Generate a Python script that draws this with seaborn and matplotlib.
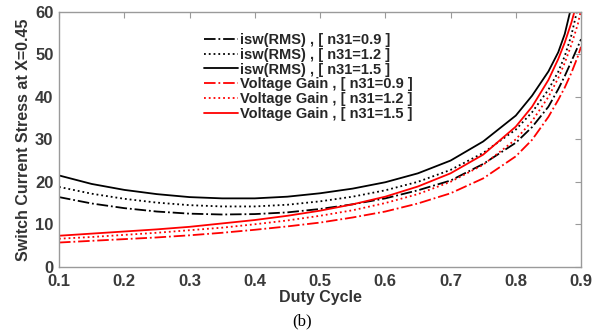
import matplotlib
matplotlib.use("Agg")
import matplotlib.pyplot as plt
import seaborn as sns
import pandas as pd

duty = [0.1, 0.15, 0.2, 0.25, 0.3, 0.35, 0.4, 0.45, 0.5, 0.55, 0.6, 0.65, 0.7,
        0.75, 0.8, 0.825, 0.85, 0.865, 0.875, 0.885, 0.895, 0.9]

isw_09 = [16.4, 14.9, 13.8, 13.0, 12.5, 12.3, 12.4, 12.8, 13.6, 14.7, 16.1, 18.0, 20.3,
          24.2, 29.2, 32.9, 37.7, 41.8, 44.9, 48.3, 51.8, 53.6]
isw_12 = [18.8, 17.2, 16.0, 15.1, 14.5, 14.2, 14.2, 14.6, 15.4, 16.5, 18.0, 20.0, 22.8,
          26.8, 32.3, 36.4, 41.7, 45.9, 49.6, 54.4, 61.0, 65.0]
isw_15 = [21.5, 19.5, 18.1, 17.1, 16.4, 16.1, 16.1, 16.5, 17.3, 18.4, 19.9, 22.0, 25.0,
          29.5, 35.6, 40.3, 46.0, 50.5, 54.8, 61.2, 70.0, 75.0]
gain_09 = [5.7, 6.1, 6.5, 6.9, 7.4, 8.0, 8.7, 9.5, 10.4, 11.6, 13.0, 14.9, 17.3,
           20.8, 26.0, 29.9, 35.3, 39.3, 42.2, 45.6, 49.5, 51.8]
gain_12 = [6.6, 7.0, 7.5, 8.0, 8.6, 9.2, 10.0, 10.9, 12.0, 13.3, 15.0, 17.1, 20.0,
           24.0, 30.0, 34.3, 40.0, 44.4, 48.0, 52.2, 57.1, 60.5]
gain_15 = [7.3, 7.8, 8.3, 8.8, 9.4, 10.2, 11.0, 12.0, 13.2, 14.7, 16.5, 18.9, 22.0,
           26.4, 33.0, 37.7, 44.0, 48.9, 52.8, 57.4, 62.9, 66.0]

labels = ["isw(RMS) , [ n31=0.9 ]", "isw(RMS) , [ n31=1.2 ]", "isw(RMS) , [ n31=1.5 ]",
          "Voltage Gain , [ n31=0.9 ]", "Voltage Gain , [ n31=1.2 ]", "Voltage Gain , [ n31=1.5 ]"]
series = [isw_09, isw_12, isw_15, gain_09, gain_12, gain_15]
colors = ["black", "black", "black", "red", "red", "red"]
styles = ["-.", ":", "-", "-.", ":", "-"]

xticks = [0.1, 0.2, 0.3, 0.4, 0.5, 0.6, 0.7, 0.8, 0.9]
yticks = [0, 10, 20, 30, 40, 50, 60]

sns.set_style("white")
plt.rcParams['font.family'] = ['Liberation Sans', 'DejaVu Sans']

fig = plt.figure(figsize=(6.04, 3.33), dpi=100)
ax = fig.add_axes([0.0977, 0.199, 0.8643, 0.765])

for lab, vals, c, ls in zip(labels, series, colors, styles):
    df = pd.DataFrame({"duty": duty, "val": vals})
    sns.lineplot(data=df, x="duty", y="val", ax=ax, color=c, linestyle=ls,
                 linewidth=1.3, label=lab, sort=False)

ax.set_xlim(0.1, 0.9)
ax.set_ylim(0, 60)
ax.set_xticks(xticks)
ax.set_xticklabels([f"{t:g}" for t in xticks])
ax.set_yticks(yticks)
ax.set_yticklabels([str(t) for t in yticks])
ax.tick_params(direction="in", top=True, right=True, length=4, width=0.8,
               color="#9a9a9a", labelsize=12, labelcolor="#3a3a3a")
ax.tick_params(axis="x", pad=5)
ax.tick_params(axis="y", pad=4)
for lbl in ax.get_xticklabels() + ax.get_yticklabels():
    lbl.set_fontweight("bold")
for sp in ax.spines.values():
    sp.set_visible(True)
    sp.set_color("#9a9a9a")
    sp.set_linewidth(1.0)

ax.set_xlabel("Duty Cycle", fontsize=11.5, fontweight="bold", color="#333333", labelpad=1)
ax.set_ylabel("Switch Current Stress at X=0.45", fontsize=11.5, fontweight="bold",
              color="#333333", labelpad=3)

leg = ax.legend(frameon=False, loc="upper center", bbox_to_anchor=(0.478, 0.94),
                handlelength=2.3, handletextpad=0.15, labelspacing=0.05,
                prop={"weight": "bold", "size": 10.5}, borderaxespad=0)

fig.text(0.5, 0.035, "(b)", fontsize=12, family="Liberation Serif",
         ha="center", va="center", color="black")

fig.savefig("out.png", dpi=100)
